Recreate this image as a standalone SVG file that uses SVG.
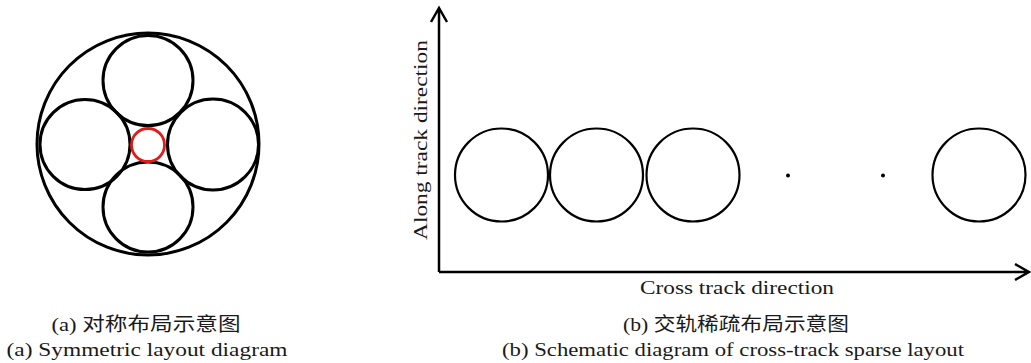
<svg xmlns="http://www.w3.org/2000/svg" width="1031" height="363" viewBox="0 0 1031 363">
<style>
.c{fill:none;stroke:#000;stroke-width:3}
.c2{fill:none;stroke:#000;stroke-width:2.2}
.ax{fill:none;stroke:#000;stroke-width:2.5}
.t{font-family:"Liberation Serif","Noto Sans CJK SC",serif;font-size:19px;fill:#1a1a1a}
</style>
<rect width="1031" height="363" fill="#fff"/>
<g id="panel-a">
<circle id="outer" class="c" cx="148" cy="144" r="111"/>
<circle id="top" class="c" cx="148" cy="80.5" r="45"/>
<circle id="left" class="c" cx="85" cy="144.5" r="45"/>
<circle id="right" class="c" cx="213" cy="144.5" r="45.5"/>
<circle id="bottom" class="c" cx="148" cy="207" r="45"/>
<circle id="center" cx="148" cy="145" r="16.5" fill="none" stroke="#e31a1a" stroke-width="2.8"/>
</g>
<g id="connectors">
<path class="ax" d="M439,272 V8 M431,22 L439,8 L447,22"/>
<path class="ax" d="M439,272 H1029 M1015,264 L1029,272 L1015,280"/>
</g>
<g id="panel-b">
<circle id="b1" class="c2" cx="501.5" cy="175" r="46.5"/>
<circle id="b2" class="c2" cx="596.5" cy="175" r="46.5"/>
<circle id="b3" class="c2" cx="693" cy="175" r="46.5"/>
<circle id="b4" class="c2" cx="979" cy="175" r="46.5"/>
<circle cx="788" cy="175.5" r="2" fill="#000"/>
<circle cx="883" cy="175.5" r="2" fill="#000"/>
</g>
<text class="t" transform="translate(427,140) rotate(-90)" text-anchor="middle" textLength="200" lengthAdjust="spacingAndGlyphs">Along track direction</text>
<text class="t" x="737" y="294" text-anchor="middle" textLength="194" lengthAdjust="spacingAndGlyphs">Cross track direction</text>
<text class="t" x="146" y="331" text-anchor="middle" textLength="189" lengthAdjust="spacingAndGlyphs">(a) 对称布局示意图</text>
<text class="t" x="147" y="356" text-anchor="middle" textLength="281" lengthAdjust="spacingAndGlyphs">(a) Symmetric layout diagram</text>
<text class="t" x="736" y="331" text-anchor="middle" textLength="226" lengthAdjust="spacingAndGlyphs">(b) 交轨稀疏布局示意图</text>
<text class="t" x="733" y="356" text-anchor="middle" textLength="462" lengthAdjust="spacingAndGlyphs">(b) Schematic diagram of cross-track sparse layout</text>
</svg>
